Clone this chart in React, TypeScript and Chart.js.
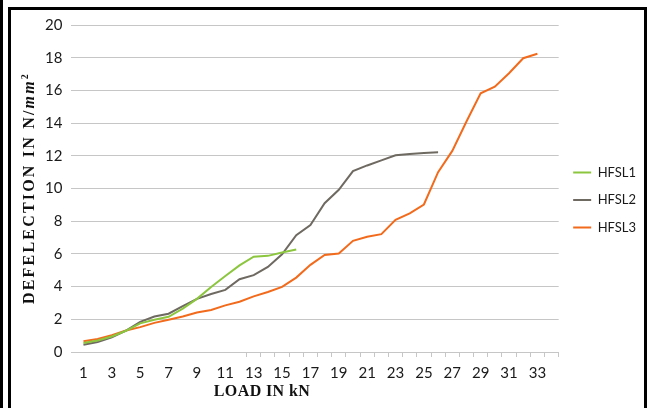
import React, { useEffect, useRef } from "react";
import { Chart, registerables } from "chart.js";

Chart.register(...registerables);

// Load categories (kN)
const loads = [1, 2, 3, 4, 5, 6, 7, 8, 9, 10, 11, 12, 13, 14, 15, 16, 17, 18, 19, 20, 21, 22, 23, 24, 25, 26, 27, 28, 29, 30, 31, 32, 33];
// Labelled ticks on the load axis
const xTickLabels = [1, 3, 5, 7, 9, 11, 13, 15, 17, 19, 21, 23, 25, 27, 29, 31, 33];
// Category boundaries that show a tick mark
const xTickMarks = [12.5, 13.5, 14.5, 15.5, 16.5, 17.5, 18.5, 19.5, 20.5, 21.5, 22.5, 23.5, 24.5, 25.5, 26.5, 27.5, 28.5, 29.5, 30.5, 31.5, 32.5, 33.5, 34.5];

const hfsl1 = [0.55, 0.7, 0.95, 1.3, 1.75, 1.97, 2.15, 2.65, 3.25, 3.98, 4.65, 5.3, 5.83, 5.88, 6.08, 6.27];
const hfsl2 = [0.45, 0.61, 0.9, 1.31, 1.84, 2.17, 2.34, 2.81, 3.25, 3.55, 3.8, 4.45, 4.7, 5.2, 5.98, 7.15, 7.77, 9.1, 9.92, 11.06, 11.41, 11.72, 12.03, 12.11, 12.17, 12.21];
const hfsl3 = [0.66, 0.8, 1.03, 1.31, 1.52, 1.78, 1.97, 2.17, 2.42, 2.57, 2.85, 3.07, 3.4, 3.67, 3.98, 4.55, 5.33, 5.94, 6.02, 6.8, 7.05, 7.21, 8.08, 8.48, 9.02, 11.0, 12.3, 14.1, 15.82, 16.23, 17.05, 17.97, 18.24];

const toPoints = (vals: number[]) => vals.map((v, i) => ({ x: loads[i], y: v }));

export default function App() {
  const ref = useRef<HTMLCanvasElement | null>(null);

  useEffect(() => {
    if (!ref.current) return;
    const gridColor = "#c6c6c6";
    const chart = new Chart(ref.current, {
      type: "line",
      data: {
        datasets: [
          { label: "HFSL1", data: toPoints(hfsl1), borderColor: "#8cc63f", backgroundColor: "#8cc63f", borderWidth: 2, pointRadius: 0, tension: 0 },
          { label: "HFSL2", data: toPoints(hfsl2), borderColor: "#6e6961", backgroundColor: "#6e6961", borderWidth: 2, pointRadius: 0, tension: 0 },
          { label: "HFSL3", data: toPoints(hfsl3), borderColor: "#f26b1d", backgroundColor: "#f26b1d", borderWidth: 2, pointRadius: 0, tension: 0 },
        ],
      },
      options: {
        responsive: false,
        animation: false,
        layout: { padding: { top: 25, left: 36, bottom: 19, right: 9 } },
        plugins: {
          legend: {
            position: "right",
            fullSize: false,
            title: { display: true, text: "", padding: 5.5, font: { size: 10 } },
            labels: {
              usePointStyle: true,
              pointStyle: "line",
              pointStyleWidth: 18,
              padding: 14.5,
              color: "#1a1a1a",
              font: { family: "Lato", size: 13 },
            },
          },
          tooltip: { enabled: false },
        },
        scales: {
          x: {
            type: "linear",
            min: 0.15,
            max: 34.5,
            afterBuildTicks: (scale: any) => {
              const t = [
                ...xTickLabels.map((v) => ({ value: v })),
                ...xTickMarks.map((v) => ({ value: v })),
              ];
              t.sort((a, b) => a.value - b.value);
              scale.ticks = t;
            },
            ticks: {
              autoSkip: false,
              maxRotation: 0,
              minRotation: 0,
              padding: 7,
              color: "#1a1a1a",
              font: { family: "Lato", size: 15 },
              callback: (v: any) => (Number.isInteger(v) ? String(v) : ""),
            },
            grid: {
              drawOnChartArea: false,
              drawTicks: true,
              tickLength: 5,
              tickColor: (ctx: any) => {
                const v = ctx.tick ? ctx.tick.value : 0;
                return Number.isInteger(v) ? "rgba(0,0,0,0)" : gridColor;
              },
            },
            border: { display: true, color: gridColor, width: 1 },
          },
          y: {
            min: 0,
            max: 20,
            ticks: {
              stepSize: 2,
              padding: 9,
              color: "#1a1a1a",
              font: { family: "Lato", size: 15 },
            },
            grid: { color: gridColor, drawTicks: false },
            border: { display: false },
          },
        },
      },
    });
    return () => chart.destroy();
  }, []);

  return (
    <div style={{ position: "fixed", left: 0, top: 0, width: 649, height: 408, overflow: "hidden", background: "#ffffff" }}>
      <canvas ref={ref} width={655} height={408} style={{ position: "absolute", left: 0, top: 0, width: 655, height: 408 }} />
      <div
        style={{
          position: "absolute",
          left: 28,
          top: 188,
          transform: "translate(-50%, -50%) rotate(-90deg)",
          whiteSpace: "nowrap",
          fontFamily: "'Liberation Serif', serif",
          fontWeight: "bold",
          fontSize: 16,
          letterSpacing: 2.2,
          lineHeight: 1,
          color: "#111",
        }}
      >
        DEFELECTION IN N/<i>mm</i>
        <sup style={{ fontSize: 10, verticalAlign: "6px" }}>2</sup>
      </div>
      <div
        style={{
          position: "absolute",
          left: 262,
          top: 391,
          transform: "translate(-50%, -50%)",
          whiteSpace: "nowrap",
          fontFamily: "'Liberation Serif', serif",
          fontWeight: "bold",
          fontSize: 16,
          letterSpacing: 0.4,
          lineHeight: 1,
          color: "#111",
        }}
      >
        LOAD IN kN
      </div>
      <div style={{ position: "absolute", left: 0, top: 0, width: 3, height: 408, background: "#000" }} />
      <div
        style={{
          position: "absolute",
          left: 8,
          top: 7,
          width: 639,
          height: 420,
          border: "3px solid #000",
          boxSizing: "border-box",
          pointerEvents: "none",
        }}
      />
    </div>
  );
}
